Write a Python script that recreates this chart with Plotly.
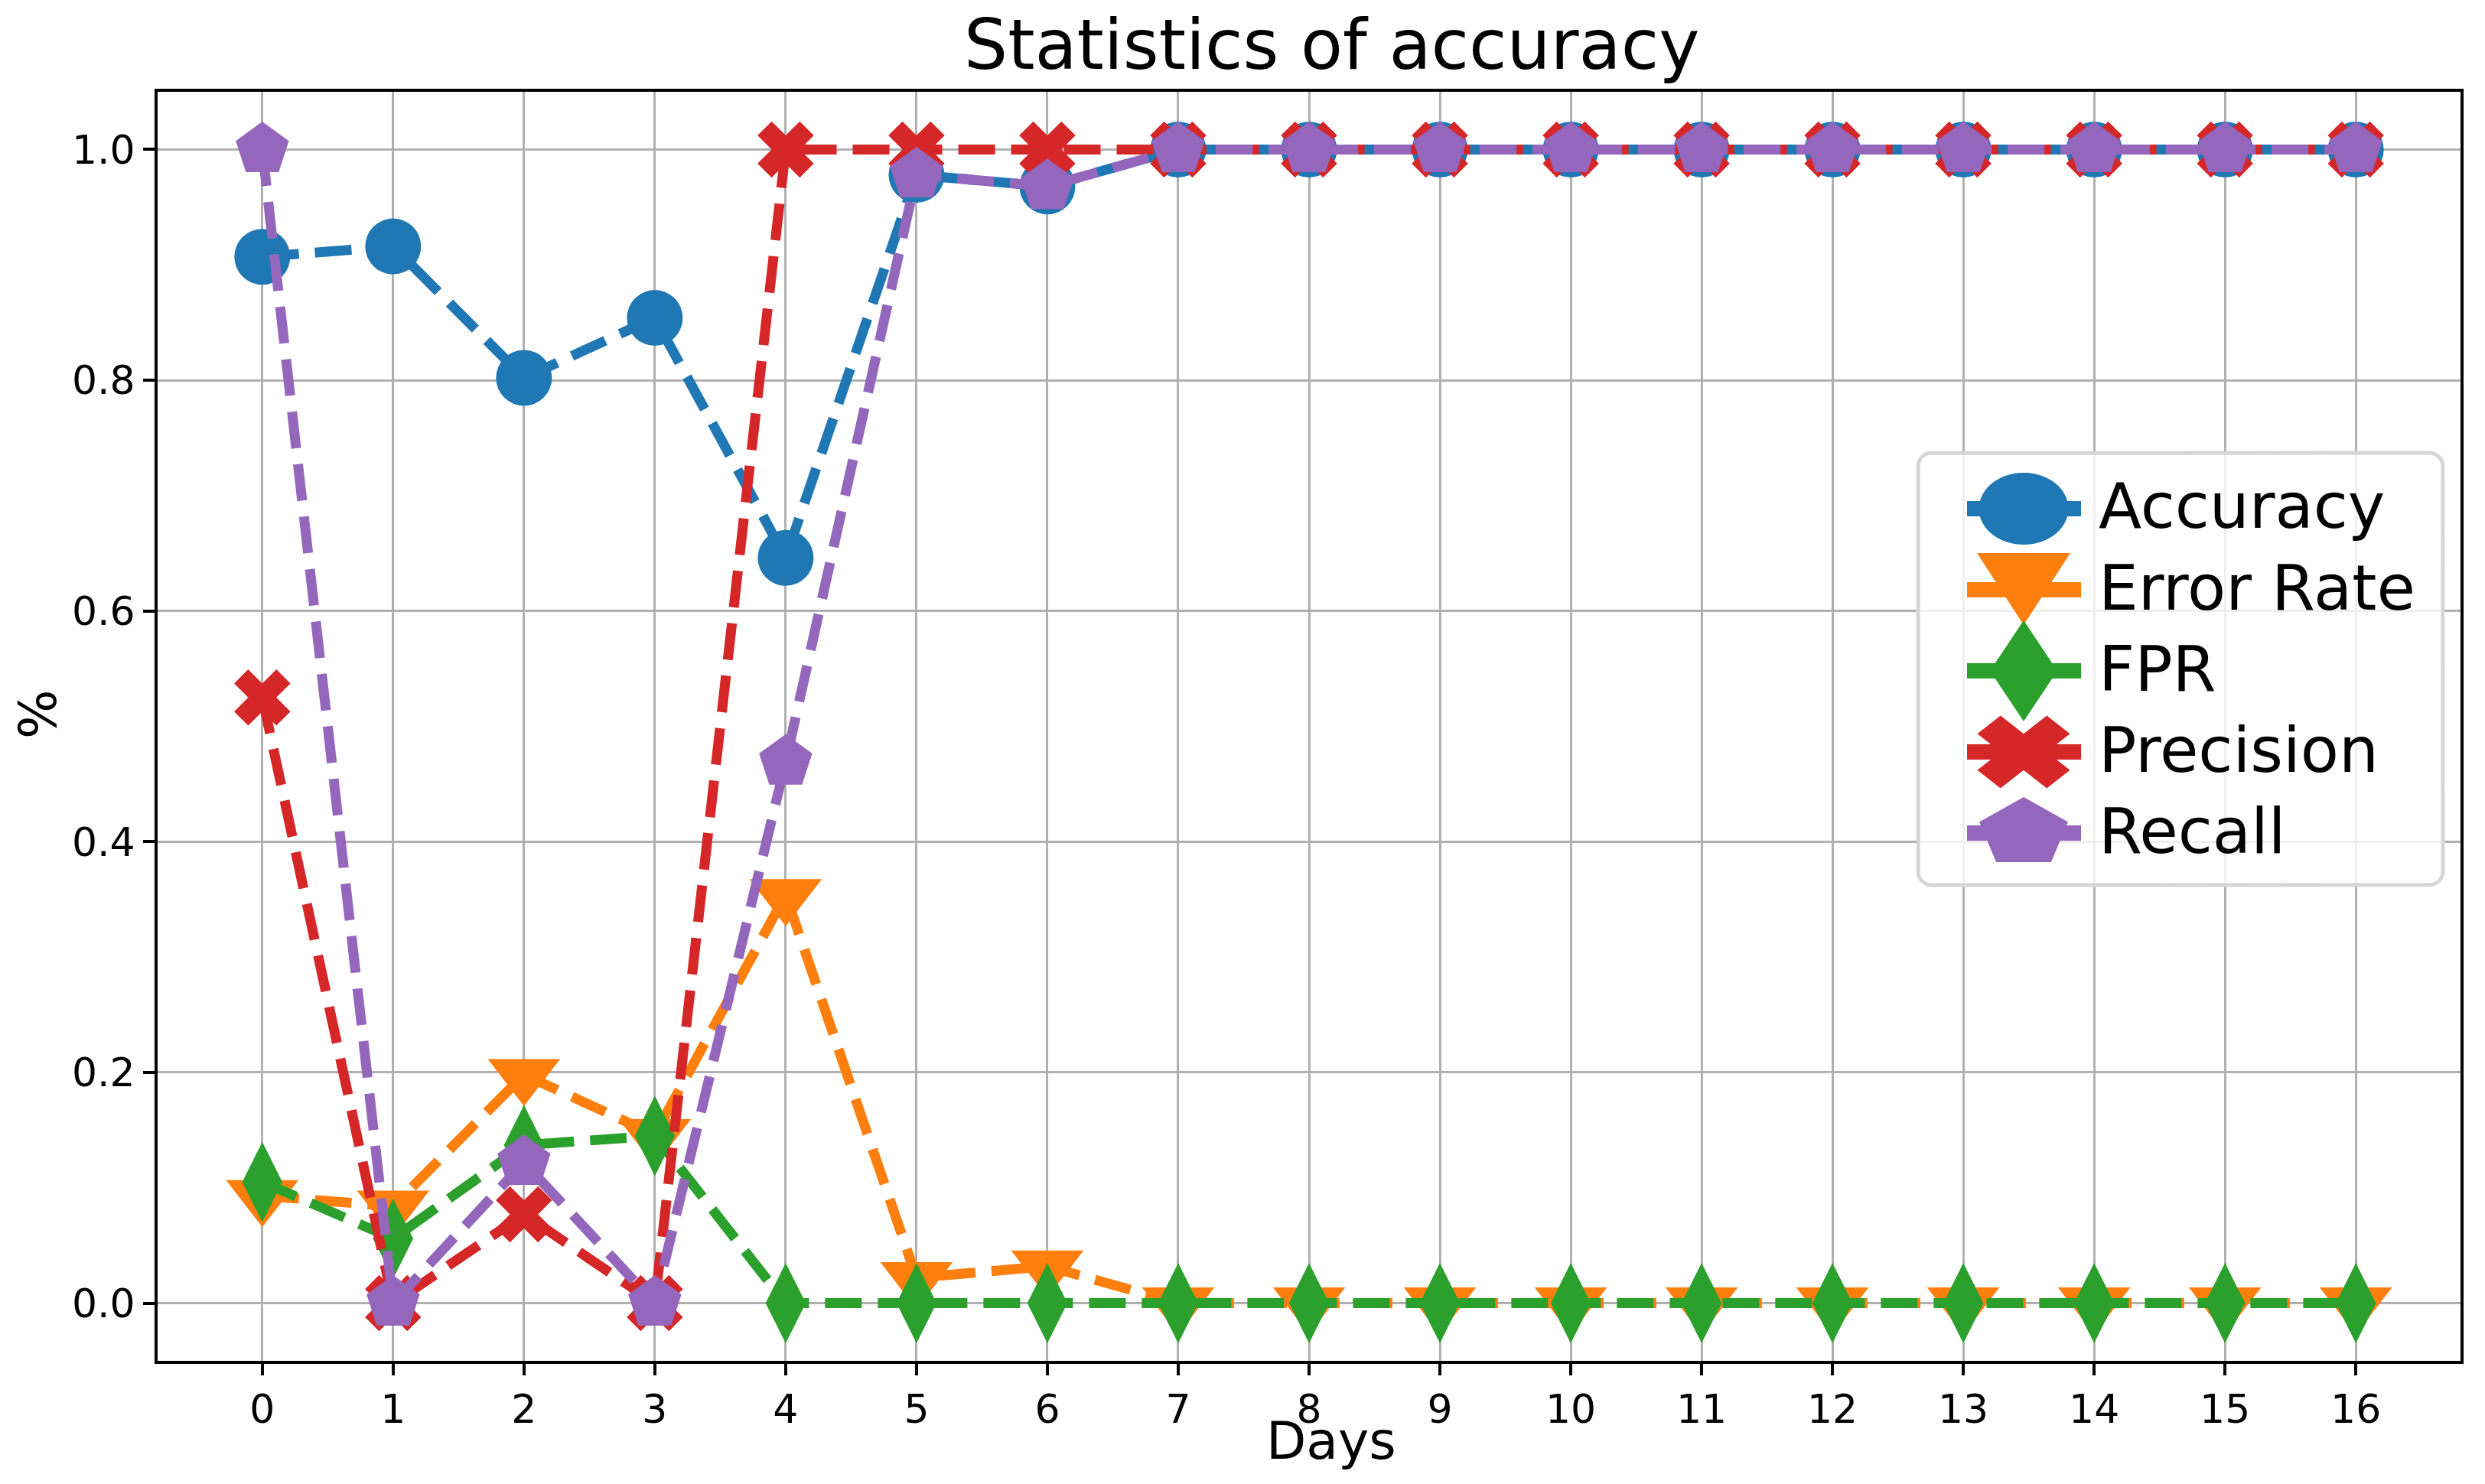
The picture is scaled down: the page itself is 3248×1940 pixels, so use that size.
import math
import plotly.graph_objects as go

# ---------------- data ----------------
days = [0, 1, 2, 3, 4, 5, 6, 7, 8, 9, 10, 11, 12, 13, 14, 15, 16]
accuracy = [0.907, 0.916, 0.802, 0.854, 0.646, 0.978, 0.968, 1.0, 1.0, 1.0, 1.0, 1.0, 1.0, 1.0, 1.0, 1.0, 1.0]
error_rate = [0.093, 0.084, 0.198, 0.146, 0.354, 0.022, 0.032, 0.0, 0.0, 0.0, 0.0, 0.0, 0.0, 0.0, 0.0, 0.0, 0.0]
fpr = [0.105, 0.056, 0.137, 0.145, 0.0, 0.0, 0.0, 0.0, 0.0, 0.0, 0.0, 0.0, 0.0, 0.0, 0.0, 0.0, 0.0]
precision = [0.525, 0.0, 0.077, 0.0, 1.0, 1.0, 1.0, 1.0, 1.0, 1.0, 1.0, 1.0, 1.0, 1.0, 1.0, 1.0, 1.0]
recall = [1.0, 0.0, 0.122, 0.0, 0.469, 0.978, 0.968, 1.0, 1.0, 1.0, 1.0, 1.0, 1.0, 1.0, 1.0, 1.0, 1.0]

series_names = ["Accuracy", "Error Rate", "FPR", "Precision", "Recall"]
series_values = [accuracy, error_rate, fpr, precision, recall]
x_tick_labels = [str(d) for d in days]
y_tick_values = [0.0, 0.2, 0.4, 0.6, 0.8, 1.0]

# ---------------- styles ----------------
colors = ["#1f77b4", "#ff7f0e", "#2ca02c", "#d62728", "#9467bd"]
symbols = ["circle", "triangle-down", "diamond-tall", "x", "pentagon"]
sizes = [73, 82, 75, 65, 73]
FONT = "DejaVu Sans"

W, H = 3248, 1940
L, R, T, B = 206, 32, 120, 161
PLOT_W = W - L - R
PLOT_H = H - T - B


def px_x(p):
    return (p - L) / PLOT_W


def px_y(p):
    return (H - B - p) / PLOT_H


fig = go.Figure()
for name, vals, col, sym, sz in zip(series_names, series_values, colors, symbols, sizes):
    fig.add_trace(go.Scatter(
        x=days, y=vals, name=name, mode="lines+markers",
        line=dict(color=col, width=13, dash="48px,21px"),
        marker=dict(symbol=sym, size=sz, color=col, line=dict(width=0)),
        showlegend=False,
    ))

axis_common = dict(
    showline=True, linecolor="black", linewidth=4, mirror=True,
    ticks="outside", ticklen=15, tickwidth=4, tickcolor="black",
    showgrid=True, gridcolor="#b0b0b0", gridwidth=3.3, zeroline=False,
    tickfont=dict(family=FONT, size=52, color="black"),
)

fig.update_xaxes(range=[-0.8, 16.8], tickmode="array", tickvals=days,
                 ticktext=x_tick_labels, **axis_common)
fig.update_yaxes(range=[-0.05, 1.05], tickmode="array", tickvals=y_tick_values,
                 ticktext=["%.1f" % v for v in y_tick_values], **axis_common)

annotations = [
    dict(text="Statistics of accuracy", x=px_x(1740), y=px_y(59), xref="paper", yref="paper",
         xanchor="center", yanchor="middle", showarrow=False,
         font=dict(family=FONT, size=90, color="black")),
    dict(text="Days", x=px_x(1740), y=px_y(1884), xref="paper", yref="paper",
         xanchor="center", yanchor="middle", showarrow=False,
         font=dict(family=FONT, size=68, color="black")),
    dict(text="%", x=px_x(49), y=px_y(934), xref="paper", yref="paper",
         xanchor="center", yanchor="middle", showarrow=False, textangle=-90,
         font=dict(family=FONT, size=68, color="black")),
]

# ---------------- custom legend ----------------
shapes = []
box_l, box_r, box_t, box_b = 2507, 3193, 592, 1157
rad = 18


def path_from_px(pts):
    s = "M " + " L ".join("%.6f,%.6f" % (px_x(a), px_y(b)) for a, b in pts) + " Z"
    return s


# rounded rectangle
rr = []
for cxr, cyr, a0 in [(box_r - rad, box_t + rad, -90), (box_r - rad, box_b - rad, 0),
                     (box_l + rad, box_b - rad, 90), (box_l + rad, box_t + rad, 180)]:
    for k in range(0, 10):
        ang = math.radians(a0 + 9 * k + 0.0)
        rr.append((cxr + rad * math.cos(ang), cyr + rad * math.sin(ang)))
shapes.append(dict(type="path", xref="paper", yref="paper", path=path_from_px(rr),
                   fillcolor="rgba(255,255,255,0.8)", line=dict(color="#d6d6d6", width=5),
                   layer="above"))

row0 = 665
row_step = 106
hx0, hx1 = 2571, 2720
hcx = 2645
legend_text_x = 2741
for i, (name, col) in enumerate(zip(series_names, colors)):
    cy = row0 + row_step * i
    shapes.append(dict(type="line", xref="paper", yref="paper",
                       x0=px_x(hx0), x1=px_x(hx1), y0=px_y(cy), y1=px_y(cy),
                       line=dict(color=col, width=20), layer="above"))
    if i == 0:
        pts = [(hcx + 58.5 * math.cos(t * 2 * math.pi / 60), cy + 47 * math.sin(t * 2 * math.pi / 60))
               for t in range(60)]
    elif i == 1:
        pts = [(hcx - 61, cy - 48), (hcx + 61, cy - 48), (hcx, cy + 46)]
    elif i == 2:
        pts = [(hcx, cy - 66), (hcx + 44, cy), (hcx, cy + 66), (hcx - 44, cy)]
    elif i == 3:
        unit = [(0.25, 0.0), (0.5, 0.25), (0.75, 0.0), (1.0, 0.25), (0.75, 0.5),
                (1.0, 0.75), (0.75, 1.0), (0.5, 0.75), (0.25, 1.0), (0.0, 0.75),
                (0.25, 0.5), (0.0, 0.25)]
        pts = [(hcx + (u - 0.5) * 121, cy + (v - 0.5) * 95) for u, v in unit]
    else:
        pts = [(hcx + 61 * math.cos(math.radians(-90 + 72 * k)),
                cy + 47 * math.sin(math.radians(-90 + 72 * k))) for k in range(5)]
    shapes.append(dict(type="path", xref="paper", yref="paper", path=path_from_px(pts),
                       fillcolor=col, line=dict(width=0), layer="above"))
    annotations.append(dict(text=name, x=px_x(legend_text_x), y=px_y(cy - 3),
                            xref="paper", yref="paper", xanchor="left", yanchor="middle",
                            showarrow=False, font=dict(family=FONT, size=82, color="black")))

fig.update_layout(
    width=W, height=H, autosize=False,
    margin=dict(l=L, r=R, t=T, b=B, pad=0),
    paper_bgcolor="white", plot_bgcolor="white",
    annotations=annotations, shapes=shapes,
    showlegend=False,
    font=dict(family=FONT),
)

fig.write_html("out.html", config={"displayModeBar": False},
               post_script="document.body.style.margin='0';document.body.style.overflow='hidden';")
